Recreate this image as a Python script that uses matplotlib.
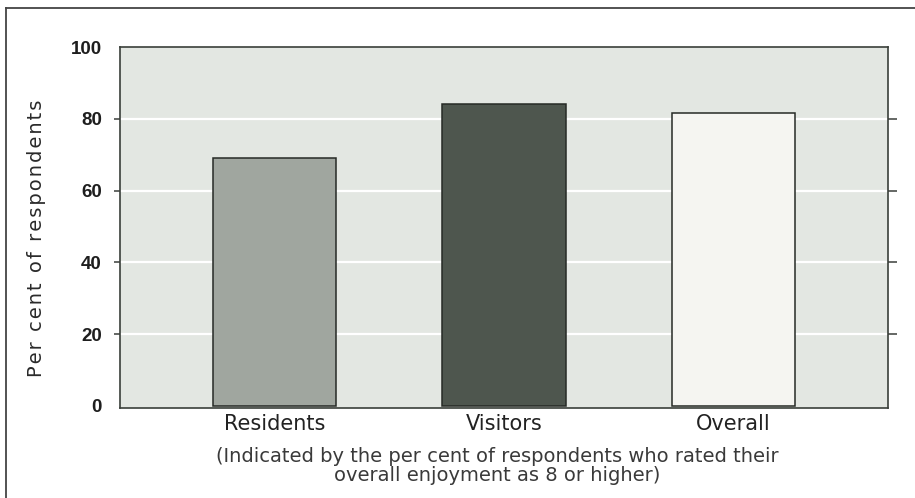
import matplotlib.pyplot as plt
from matplotlib.lines import Line2D

# data
groups = ['Residents', 'Visitors', 'Overall']
percent = [69, 84, 81.5]
bar_colors = ['#a0a69f', '#4e564e', '#f5f5f1']
yticks = [0, 20, 40, 60, 80, 100]

fig = plt.figure(figsize=(9.15, 4.98), dpi=100, facecolor='white')
ax = fig.add_axes([120 / 915, 1 - 408 / 498, 768 / 915, 361 / 498])
ax.set_facecolor('#e3e7e2')

# white gridlines behind the bars
for y in yticks[1:-1]:
    ax.axhline(y, color='white', lw=1.6, zorder=1)

x = range(len(groups))
ax.bar(x, percent, width=0.537, color=bar_colors, edgecolor='#262a26',
       linewidth=1.1, zorder=2)

ax.set_xlim(-0.675, 2.675)
ax.set_ylim(-0.6, 100)
ax.set_yticks(yticks)
ax.set_yticklabels([str(v) for v in yticks], fontsize=13.5, fontweight='bold',
                   family='Liberation Sans', color='#1e1e1e')
ax.tick_params(axis='y', length=4.5, width=1.1, color='#3a3f3a', pad=8.5)
ticks = ax.yaxis.get_major_ticks()
ticks[0].tick1line.set_visible(False)
ticks[-1].tick1line.set_visible(False)

ax.set_xticks(list(x))
ax.set_xticklabels(groups, fontsize=15, family='DejaVu Sans', color='#222222')
ax.tick_params(axis='x', length=0, pad=4)

for s in ax.spines.values():
    s.set_color('#3a3f3a')
    s.set_linewidth(1.2)

# short ticks on the right side
sec = ax.secondary_yaxis('right')
sec.set_yticks(yticks[1:-1])
sec.set_yticklabels([])
sec.tick_params(length=6.5, width=1.1, color='#3a3f3a')
sec.spines['right'].set_visible(False)

# spaced-out y label, like the original lettering
ylab = '\u200a'.join('Per cent of respondents')
fig.text(37 / 915, 1 - 238 / 498, ylab, rotation=90, ha='center', va='center',
         fontsize=14, family='DejaVu Sans', color='#2a2a2a')

fig.text(497 / 915, 1 - 466 / 498,
         '(Indicated by the per cent of respondents who rated their\n'
         'overall enjoyment as 8 or higher)',
         ha='center', va='center', fontsize=14, family='DejaVu Sans',
         color='#3a3a3a', linespacing=1.0)

# outer frame lines
fig.add_artist(Line2D([6 / 915, 1.0], [1 - 8 / 498, 1 - 8 / 498],
                      transform=fig.transFigure, color='#444444', lw=1.3))
fig.add_artist(Line2D([6 / 915, 6 / 915], [0.0, 1 - 8 / 498],
                      transform=fig.transFigure, color='#444444', lw=1.3))

fig.savefig('out.png', dpi=100, facecolor='white')
